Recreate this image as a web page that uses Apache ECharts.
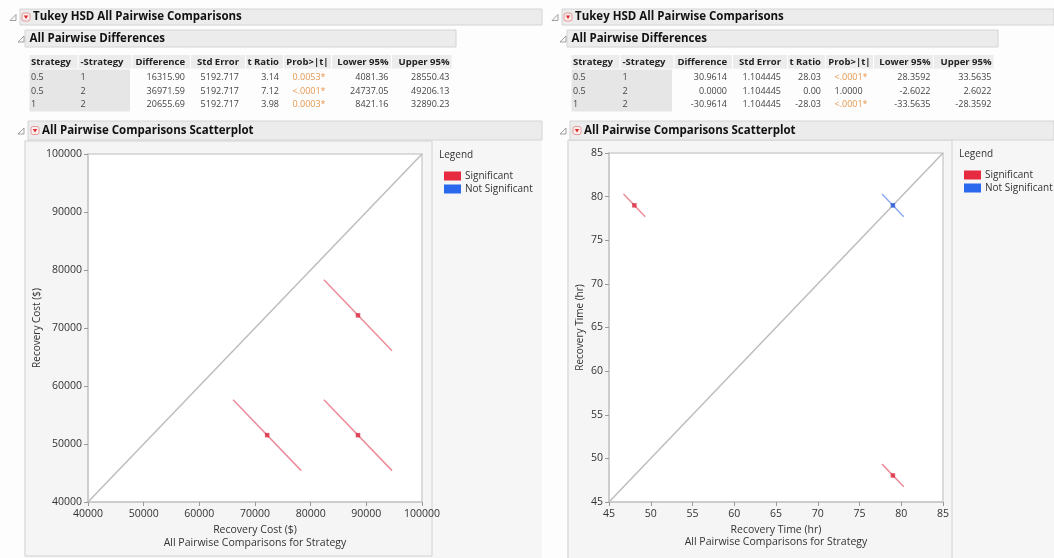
<!DOCTYPE html>
<html><head><meta charset="utf-8">
<script src="https://cdn.jsdelivr.net/npm/echarts@6/dist/echarts.min.js"></script>
<style>html,body{margin:0;padding:0;background:#fdfdfd}#c{width:1054px;height:558px}</style>
</head><body><div id="c"></div>
<script>
// ---------- data ----------
const strategies = ['0.5', '1', '2'];
const pairFrom = ['0.5', '0.5', '1'];
const pairTo = ['1', '2', '2'];
const tableHeads = ['Strategy', '-Strategy', 'Difference', 'Std Error', 't Ratio', 'Prob>|t|', 'Lower 95%', 'Upper 95%'];

// Recovery Cost report
const costDiff = ['16315.90', '36971.59', '20655.69'];
const costStdErr = ['5192.717', '5192.717', '5192.717'];
const costT = ['3.14', '7.12', '3.98'];
const costP = ['0.0053*', '<.0001*', '0.0003*'];
const costLower = ['4081.36', '24737.05', '8421.16'];
const costUpper = ['28550.43', '49206.13', '32890.23'];
const costMeans = [88500, 72184, 51528];
const costAxis = [40000, 100000, 10000];

// Recovery Time report
const timeDiff = ['30.9614', '0.0000', '-30.9614'];
const timeStdErr = ['1.104445', '1.104445', '1.104445'];
const timeT = ['28.03', '0.00', '-28.03'];
const timeP = ['<.0001*', '1.0000', '<.0001*'];
const timeLower = ['28.3592', '-2.6022', '-33.5635'];
const timeUpper = ['33.5635', '2.6022', '-28.3592'];
const timeMeans = [79.0, 48.04, 79.0];
const timeAxis = [45, 85, 5];

// ---------- helpers ----------
const FF = '"Open Sans", "Noto Sans", sans-serif';
const RED = '#e62a40', BLUE = '#2a68ee';
const RED_DOT = '#d82840', BLUE_DOT = '#2456d6';
const RED_SEG = '#ec8c9c', BLUE_SEG = '#8eaaf0';

function isSig(p) { return p.charAt(0) === '<' || parseFloat(p) < 0.05; }

function txt(x, y, s, size, opt) {
  opt = opt || {};
  return {
    type: 'text', x: x, y: y, z: 20, silent: true,
    style: {
      text: s, fontSize: size, fontFamily: FF, fontWeight: opt.bold ? 'bold' : 'normal',
      fill: opt.color || '#333',
      textAlign: opt.align || 'left', align: opt.align || 'left',
      textVerticalAlign: 'middle', verticalAlign: 'middle'
    }
  };
}
function rect(x, y, w, h, fill, stroke, z, r) {
  return { type: 'rect', z: z == null ? 1 : z, silent: true,
    shape: { x: x, y: y, width: w, height: h, r: r || 0 },
    style: { fill: fill, stroke: stroke || null, lineWidth: 1 } };
}
function disclosure(x, cy) {
  return { type: 'polygon', z: 20, silent: true,
    shape: { points: [[x, cy + 3], [x + 6, cy + 3], [x + 6, cy - 3]] },
    style: { fill: '#fafafa', stroke: '#8a8a8a', lineWidth: 0.8 } };
}
function menuIcon(x, cy) {
  return [
    rect(x, cy - 4, 8, 8, '#fdeeee', '#e39a9a', 20, 2),
    { type: 'polygon', z: 21, silent: true,
      shape: { points: [[x + 1.8, cy - 1.4], [x + 6.2, cy - 1.4], [x + 4, cy + 2]] },
      style: { fill: '#d92b2b' } }
  ];
}
function header(bx, by, bw, bh, triX, menuX, textX, title, size) {
  const cy = by + bh / 2;
  let els = [rect(bx, by, bw, bh, '#ececec', '#d4d4d4', 2), disclosure(triX, cy + 0.5)];
  if (menuX != null) els = els.concat(menuIcon(menuX, cy));
  els.push(txt(textX, cy, title, size, { bold: true, color: '#111' }));
  return els;
}

function report(ox, barEnd, cols, frame) {
  let els = [];
  els.push(rect(frame.x - 1, 140, barEnd - frame.x + 1, 420, '#f6f6f6', null, -5));
  els.push(rect(frame.x, frame.y, frame.w, frame.h, '#f5f5f5', '#d2d2d2', -4));
  els = els.concat(header(20 + ox, 9, barEnd - 20 - ox, 16, 10 + ox, 22 + ox, 33 + ox, 'Tukey HSD All Pairwise Comparisons', 11.5));
  els = els.concat(header(25 + ox, 30, 431, 17, 18 + ox, null, 29.5 + ox, 'All Pairwise Differences', 11.5));
  els = els.concat(header(28 + ox, 121, barEnd - 28 - ox, 19, 18 + ox, 31 + ox, 42 + ox, 'All Pairwise Comparisons Scatterplot', 11.5));
  els.push(rect(29.5 + ox, 55, 422, 13.5, '#ececec', null, 2));
  [77.5, 131.5, 190, 245, 283, 331, 391].forEach(function (sx) {
    els.push(rect(sx + ox, 55, 1, 13.5, '#ffffff', null, 3));
  });
  els.push(rect(29.5 + ox, 69.5, 100.5, 42, '#e6e6e6', null, 2));
  const colX = [31, 80.5, 185, 239, 279, 292.5, 388.5, 449.5];
  const colA = ['left', 'left', 'right', 'right', 'right', 'left', 'right', 'right'];
  const headX = [31, 80.5, 185, 239, 279, 328.5, 388.5, 449.5];
  const headA = ['left', 'left', 'right', 'right', 'right', 'right', 'right', 'right'];
  const rowY = [77.5, 91, 104.5];
  tableHeads.forEach(function (h, c) {
    els.push(txt(headX[c] + ox, 62, h, 9.5, { bold: true, color: '#222', align: headA[c] }));
  });
  cols.forEach(function (vals, c) {
    vals.forEach(function (v, r) {
      let color = '#444';
      if (c === 5 && isSig(v)) color = '#e5984f';
      els.push(txt(colX[c] + ox, rowY[r], v, 9, { color: color, align: colA[c] }));
    });
  });
  return els;
}

function pairSeries(g, means, lower, upper, pvals) {
  const out = [];
  const sigPts = [], nsPts = [];
  pairFrom.forEach(function (a, k) {
    const i = strategies.indexOf(a), j = strategies.indexOf(pairTo[k]);
    const x = means[i], y = means[j], S = x + y;
    const lo = parseFloat(lower[k]), hi = parseFloat(upper[k]);
    const sig = isSig(pvals[k]);
    out.push({
      type: 'line', name: 'ci' + g + k, xAxisIndex: g, yAxisIndex: g, symbol: 'none', silent: true, z: 3,
      data: [[(S + lo) / 2, (S - lo) / 2], [(S + hi) / 2, (S - hi) / 2]],
      lineStyle: { color: sig ? RED_SEG : BLUE_SEG, width: 1.5 }
    });
    (sig ? sigPts : nsPts).push([x, y]);
  });
  out.push({ type: 'scatter', name: 'Significant', xAxisIndex: g, yAxisIndex: g, symbol: 'rect', symbolSize: 4.5,
    data: sigPts, itemStyle: { color: RED_DOT }, z: 5 });
  out.push({ type: 'scatter', name: 'Not Significant', xAxisIndex: g, yAxisIndex: g, symbol: 'rect', symbolSize: 4.5,
    data: nsPts, itemStyle: { color: BLUE_DOT }, z: 5 });
  return out;
}
function diag(g, ax) {
  return { type: 'line', name: 'diag' + g, xAxisIndex: g, yAxisIndex: g, symbol: 'none', silent: true, z: 2,
    data: [[ax[0], ax[0]], [ax[1], ax[1]]], lineStyle: { color: '#bdbdbd', width: 1.5 } };
}
function axis(ax, name, gap, labelMargin, nameSize) {
  return {
    type: 'value', min: ax[0], max: ax[1], interval: ax[2],
    name: name, nameLocation: 'middle', nameGap: gap,
    nameTextStyle: { fontFamily: FF, fontSize: nameSize, color: '#333' },
    axisLine: { show: true, lineStyle: { color: '#c8c8c8', width: 1.5 } },
    axisTick: { show: true, length: 4, lineStyle: { color: '#9a9a9a' } },
    axisLabel: { fontFamily: FF, fontSize: 10.5, color: '#333', margin: labelMargin,
      formatter: function (v) { return String(v); } },
    splitLine: { show: false }
  };
}
function legend(left, top) {
  return {
    left: left, top: top, orient: 'vertical', icon: 'rect', itemWidth: 17, itemHeight: 9, itemGap: 1,
    selectedMode: false,
    textStyle: { fontFamily: FF, fontSize: 10, color: '#333', lineHeight: 12, padding: [0, 0, 0, -1] },
    data: [{ name: 'Significant', itemStyle: { color: RED, opacity: 1 } }, { name: 'Not Significant', itemStyle: { color: BLUE, opacity: 1 } }]
  };
}

let graphics = [];
graphics = graphics.concat(report(0, 542,
  [pairFrom, pairTo, costDiff, costStdErr, costT, costP, costLower, costUpper],
  { x: 25, y: 141, w: 407, h: 415 }));
graphics = graphics.concat(report(542, 1054,
  [pairFrom, pairTo, timeDiff, timeStdErr, timeT, timeP, timeLower, timeUpper],
  { x: 568, y: 140, w: 384, h: 420 }));
graphics.push(txt(439, 155, 'Legend', 10));
graphics.push(txt(959, 154, 'Legend', 10));
graphics.push(txt(255, 543, 'All Pairwise Comparisons for Strategy', 10.5, { align: 'center' }));
graphics.push(txt(776, 542, 'All Pairwise Comparisons for Strategy', 10.5, { align: 'center' }));

const chart = echarts.init(document.getElementById('c'), null, { renderer: 'canvas' });
chart.setOption({
  animation: false,
  backgroundColor: 'transparent',
  grid: [
    { left: 88, top: 154, width: 334, height: 348, show: true, backgroundColor: '#ffffff', borderColor: '#d0d0d0', borderWidth: 1.5 },
    { left: 609, top: 153, width: 334, height: 349, show: true, backgroundColor: '#ffffff', borderColor: '#d0d0d0', borderWidth: 1.5 }
  ],
  xAxis: [
    Object.assign(axis(costAxis, 'Recovery Cost ($)', 20, 7, 10.5), { gridIndex: 0 }),
    Object.assign(axis(timeAxis, 'Recovery Time (hr)', 20, 7, 10.5), { gridIndex: 1 })
  ],
  yAxis: [
    Object.assign(axis(costAxis, 'Recovery Cost ($)', 46, 6, 10), { gridIndex: 0 }),
    Object.assign(axis(timeAxis, 'Recovery Time (hr)', 24, 6, 10), { gridIndex: 1 })
  ],
  legend: [legend(439, 165), legend(959, 164)],
  graphic: { elements: graphics },
  series: [diag(0, costAxis), diag(1, timeAxis)]
    .concat(pairSeries(0, costMeans, costLower, costUpper, costP))
    .concat(pairSeries(1, timeMeans, timeLower, timeUpper, timeP))
});
</script></body></html>
